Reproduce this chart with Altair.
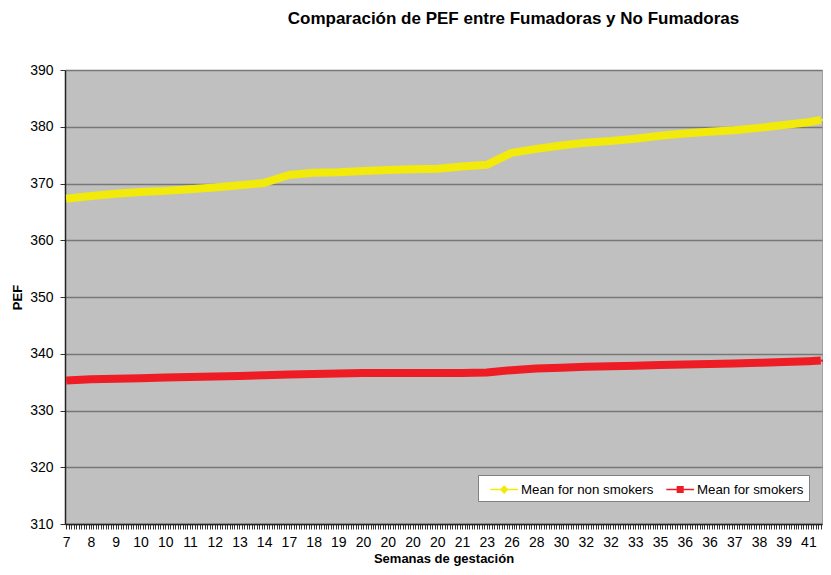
import json
import altair as alt
import pandas as pd

# ---- data ----
week_labels = ["7", "8", "9", "10", "10", "11", "12", "13", "14", "17", "18",
               "19", "20", "20", "20", "20", "21", "23", "26", "28", "30", "32",
               "32", "33", "35", "36", "36", "37", "38", "39", "41"]
obs_index = list(range(0, 301, 10)) + [305]
non_smokers = [367.3, 367.8, 368.2, 368.5, 368.7, 369.0, 369.3, 369.7, 370.1,
               371.5, 371.9, 372.0, 372.2, 372.4, 372.5, 372.6, 373.0, 373.3,
               375.4, 376.1, 376.7, 377.2, 377.5, 377.9, 378.4, 378.8, 379.1,
               379.4, 379.8, 380.3, 380.8, 381.2]
smokers = [335.3, 335.5, 335.6, 335.7, 335.8, 335.9, 336.0, 336.1, 336.2,
           336.35, 336.45, 336.5, 336.6, 336.6, 336.6, 336.6, 336.6, 336.7,
           337.1, 337.4, 337.55, 337.7, 337.8, 337.9, 338.0, 338.1, 338.2,
           338.3, 338.4, 338.55, 338.7, 338.8]
series_names = ["Mean for non smokers", "Mean for smokers"]
series_colors = ["#F2EA0A", "#EE1C24"]
n_obs = 306

rows = []
for i, v in zip(obs_index, non_smokers):
    rows.append({"obs": i, "series": series_names[0], "PEF": v})
for i, v in zip(obs_index, smokers):
    rows.append({"obs": i, "series": series_names[1], "PEF": v})
df = pd.DataFrame(rows)

FONT = "Liberation Sans"
label_expr = ("datum.value % 10 == 0 ? " + json.dumps(week_labels) +
              "[datum.value / 10] : ''")

diamond = "M-0.25,0H2.95M1.35,-0.38L1.73,0L1.35,0.38L0.97,0Z"
square = "M-0.25,0H2.95M1.03,-0.32H1.67V0.32H1.03Z"

legend = alt.Legend(title=None, orient="none", legendX=413, legendY=405,
                    direction="horizontal", fillColor="white",
                    strokeColor="#808080", padding=5, columnPadding=5,
                    symbolSize=300, symbolStrokeWidth=1.5,
                    labelFont=FONT, labelFontSize=13.3, labelColor="black",
                    symbolOpacity=1, labelOffset=19)

x = alt.X("obs:Q",
          scale=alt.Scale(domain=[-0.5, n_obs - 0.5], nice=False, zero=False),
          axis=alt.Axis(values=list(range(n_obs)), labelExpr=label_expr,
                        tickSize=5, tickColor="#333333", tickWidth=1,
                        grid=False, labelOverlap=False, labelFlush=False,
                        labelBound=False, labelPadding=6,
                        domainColor="#222222", domainWidth=1.5,
                        title="Semanas de gestación", titlePadding=3))
y = alt.Y("PEF:Q",
          scale=alt.Scale(domain=[310, 390], nice=False, zero=False),
          axis=alt.Axis(values=list(range(310, 391, 10)), grid=True,
                        gridColor="#777777", gridWidth=1.6, tickSize=5,
                        tickColor="#333333", labelPadding=7,
                        domainColor="#222222", domainWidth=1.5,
                        title="PEF", titlePadding=5))
color_scale = alt.Scale(domain=series_names, range=series_colors)

lines = alt.Chart(df).mark_line(strokeWidth=8, strokeJoin="round",
                                strokeCap="butt").encode(
    x=x, y=y,
    color=alt.Color("series:N", scale=color_scale, legend=legend),
)
points = alt.Chart(df).mark_point(filled=False, size=6, strokeWidth=1.5,
                                  opacity=1).encode(
    x=x, y=y,
    color=alt.Color("series:N", scale=color_scale, legend=legend),
    fill=alt.Fill("series:N", scale=color_scale, legend=legend),
    shape=alt.Shape("series:N",
                    scale=alt.Scale(domain=series_names, range=[diamond, square]),
                    legend=legend),
)

chart = alt.layer(lines, points).properties(
    width=757, height=454,
    autosize="none",
    background="white",
    padding={"left": 57, "top": 62, "right": 1, "bottom": 43},
    title=alt.TitleParams("Comparación de PEF entre Fumadoras y No Fumadoras",
                          font=FONT, fontSize=17, fontWeight="bold",
                          anchor="middle", frame="group", dx=70, offset=35,
                          color="black"),
).configure_view(fill="#C0C0C0", stroke="#A0A0A0").configure_axis(
    labelFont=FONT, labelFontSize=14, labelColor="black",
    titleFont=FONT, titleFontSize=13, titleFontWeight="bold", titleColor="black",
)

chart.save("out.html", embed_options={"renderer": "svg", "actions": False})
